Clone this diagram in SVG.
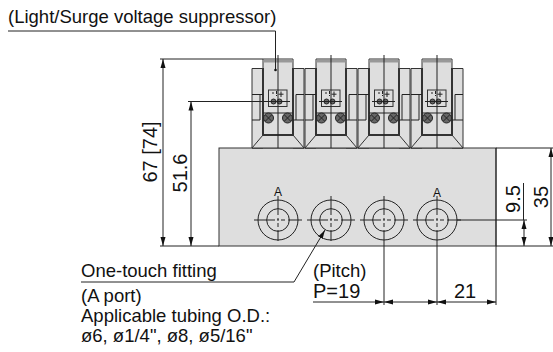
<svg xmlns="http://www.w3.org/2000/svg" width="553" height="352" viewBox="0 0 553 352">
<style>
text{font-family:"Liberation Sans",Arial,sans-serif;font-size:18.500px;fill:#111}
.d{font-size:20px}
.f{fill:#dedede;stroke:#333;stroke-width:1}
.n{fill:none;stroke:#222;stroke-width:1}
.h{fill:none;stroke:#333;stroke-width:2}
.c{fill:none;stroke:#222;stroke-width:1}
.s{fill:#666;stroke:#222;stroke-width:1}
</style>
<defs>
<marker id="a" markerUnits="userSpaceOnUse" markerWidth="9" markerHeight="6" refX="9" refY="3" orient="auto-start-reverse"><path d="M0 0.500L9 3L0 5.500z" fill="#111"/></marker>
<g id="valve">
<path class="f" d="M-26 148V68.500H-15V148z"/>
<path class="f" d="M15 148V68.500H26V148z"/>
<path class="f" d="M-15 135V59H15V135z"/>
<path class="f" d="M-26 148L-15 135H15L26 148z"/>
<rect x="-14.500" y="59.500" width="29" height="3" fill="#999"/>
<path class="h" d="M-15 68V135H15V68"/>
<path class="n" d="M-18 94.500H-26M-18 94.500V120H-26M18 94.500H26M18 94.500V120H26M-15 94.500H-18M15 120H18"/>
<path class="n" d="M-15 113H15"/>
<rect class="f" x="-9.500" y="90" width="18.500" height="16.500"/>
<circle class="s" cx="-4.500" cy="101.500" r="2.500"/><circle class="s" cx="1.500" cy="101.500" r="2.500"/>
<path class="n" d="M-6 93H-4M3 91.500V97M0.500 94.200H5.500M-1.500 91V94M-1.500 95V96"/>
<path class="n" d="M-12 101.500H11"/>
<circle class="s" cx="-9.500" cy="118" r="5"/><circle class="s" cx="9.500" cy="118" r="5"/>
<path class="n" d="M-12.500 115L-6.500 121M-12.500 121L-6.500 115M6.500 115L12.500 121M6.500 121L12.500 115"/>
</g>
<g id="port">
<circle class="c" cy="220" r="20"/><circle class="c" cy="220" r="11.300"/>
<path class="n" d="M-24 220H-3M-1 220H1M3 220H7M10 220H24M0 196V215M0 218V220M0 223V227M0 230V241"/>
</g>
</defs>
<g id="manifold"><rect class="f" x="219" y="148" width="277" height="98"/></g>
<g id="valve1"><use href="#valve" x="278"/></g>
<g id="valve2"><use href="#valve" x="331"/></g>
<g id="valve3"><use href="#valve" x="384"/></g>
<g id="valve4"><use href="#valve" x="437"/></g>
<g id="port1"><use href="#port" x="278"/></g>
<g id="port2"><use href="#port" x="331"/></g>
<g id="port3"><use href="#port" x="384"/></g>
<g id="port4"><use href="#port" x="437"/></g>
<g id="connectors">
<path class="n" d="M278 55V148M331 55V148M384 55V148M437 55V148"/>
<path class="n" d="M8 31H275.500V70"/>
<circle cx="275.500" cy="70" r="1.300" fill="#111"/>
<path class="n" d="M160 59H263M188 101.500H290M160 246H219M496 148H553M496 246H553M457 220H527M496 148V305M384 241V305M437 241V305"/>
<path class="n" d="M163 59V246" marker-start="url(#a)" marker-end="url(#a)"/>
<path class="n" d="M191 101.500V246" marker-start="url(#a)" marker-end="url(#a)"/>
<path class="n" d="M551 148V246" marker-start="url(#a)" marker-end="url(#a)"/>
<path class="n" d="M524 220V246" marker-start="url(#a)" marker-end="url(#a)"/>
<path class="n" d="M523.500 183V220"/>
<path class="n" d="M81 282H294L325 230" marker-end="url(#a)"/>
<path class="n" d="M313 302H384" marker-end="url(#a)"/>
<path class="n" d="M384 302H437" marker-start="url(#a)" marker-end="url(#a)"/>
<path class="n" d="M437 302H496" marker-start="url(#a)" marker-end="url(#a)"/>
</g>
<g id="labels">
<text x="8" y="23">(Light/Surge voltage suppressor)</text>
<text x="278" y="196" text-anchor="middle" style="font-size:12px">A</text>
<text x="437" y="197" text-anchor="middle" style="font-size:12px">A</text>
<text class="d" transform="translate(157 152) rotate(-90)" text-anchor="middle">67 [74]</text>
<text class="d" transform="translate(187 173) rotate(-90)" text-anchor="middle">51.6</text>
<text class="d" transform="translate(519.500 199) rotate(-90)" text-anchor="middle">9.5</text>
<text class="d" transform="translate(547.500 197) rotate(-90)" text-anchor="middle">35</text>
<text class="d" x="454" y="298">21</text>
<text x="81" y="277">One-touch fitting</text>
<text x="81" y="302">(A port)</text>
<text x="81" y="322">Applicable tubing O.D.:</text>
<text x="81" y="342">ø6, ø1/4", ø8, ø5/16"</text>
<text x="313" y="277">(Pitch)</text>
<text class="d" x="313" y="298">P=19</text>
</g>
</svg>
